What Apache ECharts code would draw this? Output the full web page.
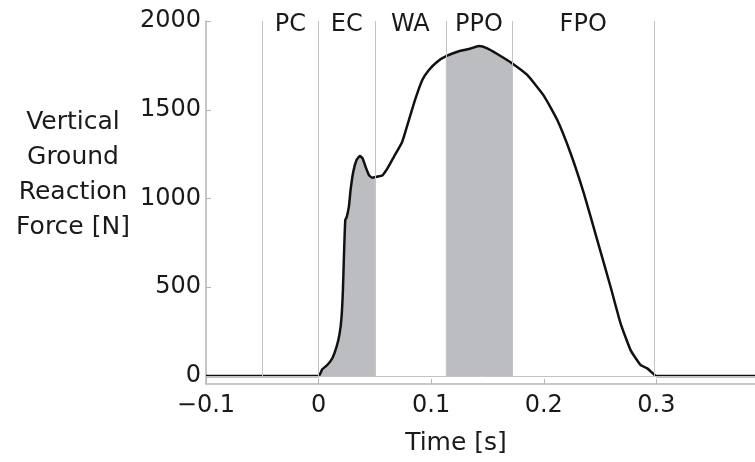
<!DOCTYPE html>
<html>
<head>
<meta charset="utf-8">
<script src="https://cdn.jsdelivr.net/npm/echarts@6/dist/echarts.min.js"></script>
<style>html,body{margin:0;padding:0;background:#fff}#c{width:755px;height:462px}</style>
</head>
<body>
<div id="c"></div>
<script>
const time  = [-0.1, 0, 0.0033, 0.0077, 0.0122, 0.016, 0.0187, 0.0204, 0.0216, 0.0225, 0.0237, 0.0249, 0.0269, 0.0284, 0.0308, 0.0337, 0.0367, 0.0391, 0.0417, 0.0447, 0.0477, 0.0515, 0.0566, 0.061, 0.0669, 0.0743, 0.0802, 0.0861, 0.0921, 0.098, 0.1054, 0.1137, 0.1232, 0.1335, 0.1424, 0.1498, 0.1587, 0.172, 0.1853, 0.2001, 0.212, 0.2238, 0.2356, 0.2475, 0.2593, 0.2682, 0.2771, 0.286, 0.2919, 0.2984, 0.3, 0.3876];
const force = [0, 0, 38, 62, 100, 165, 240, 334, 484, 672, 879, 894, 954, 1048, 1151, 1217, 1239, 1226, 1179, 1132, 1117, 1123, 1130, 1168, 1235, 1320, 1442, 1564, 1668, 1724, 1771, 1803, 1827, 1842, 1859, 1846, 1814, 1761, 1696, 1578, 1442, 1255, 1029, 766, 503, 297, 146, 62, 43, 6, 0, 0];
const phaseBounds = [-0.05, 0, 0.05, 0.113, 0.172, 0.298];
const phaseNames = ['PC', 'EC', 'WA', 'PPO', 'FPO'];
const shadedPhases = ['EC', 'PPO'];
const xTicks = [-0.1, 0, 0.1, 0.2, 0.3];
const yTicks = [0, 500, 1000, 1500, 2000];
const xRange = [-0.1, 0.3876];
const yRange = [-45, 2000];

const main = time.map((t, i) => [t, force[i]]);
function interp(t) {
  for (let i = 1; i < time.length; i++) {
    if (time[i] >= t) {
      const f = (t - time[i - 1]) / (time[i] - time[i - 1]);
      return force[i - 1] + f * (force[i] - force[i - 1]);
    }
  }
  return 0;
}
function shadeData(a, b) {
  const d = [[a, interp(a)]];
  time.forEach((t, i) => { if (t > a && t < b) d.push([t, force[i]]); });
  d.push([b, interp(b)]);
  return d;
}
const gray = '#bcbdc1';
const txt = '#1a1a1a';
const series = [];
series.push({
  type: 'line', data: [], silent: true, z: 1,
  markLine: {
    silent: true, symbol: 'none', animation: false,
    lineStyle: { color: '#c4c4c4', width: 1, type: 'solid' },
    label: { show: false },
    data: phaseBounds.map(b => [{ coord: [b, 0] }, { coord: [b, yTicks[yTicks.length - 1]] }])
      .concat([[{ coord: [xRange[0], 0] }, { coord: [xRange[1], 0] }]])
  }
});
shadedPhases.forEach(name => {
  const k = phaseNames.indexOf(name);
  series.push({
    type: 'line', data: shadeData(phaseBounds[k], phaseBounds[k + 1]),
    symbol: 'none', smooth: 0.15, z: 2, silent: true,
    lineStyle: { width: 0 }, areaStyle: { color: gray, opacity: 1, origin: 0 }
  });
});
series.push({
  type: 'line', data: main, symbol: 'none', smooth: 0.15, z: 3,
  lineStyle: { color: '#111', width: 2.5 }
});
series.push({
  type: 'scatter', symbolSize: 0, z: 4, silent: true,
  itemStyle: { opacity: 1 },
  data: phaseNames.map((n, k) => ({ name: n, value: [(phaseBounds[k] + phaseBounds[k + 1]) / 2, yTicks[yTicks.length - 1]] })),
  label: { show: true, position: 'inside', offset: [0, 4], formatter: p => p.name, color: txt, opacity: 1, fontSize: 24, fontFamily: 'DejaVu Sans' }
});

const chart = echarts.init(document.getElementById('c'));
chart.setOption({
  animation: false,
  grid: { left: 206, top: 21, right: 0, bottom: 78, containLabel: false },
  xAxis: {
    type: 'value', min: xRange[0], max: xRange[1],
    splitLine: { show: false },
    axisLine: { show: true, onZero: false, lineStyle: { color: '#b5b5b5', width: 1.5 } },
    axisTick: { show: true, inside: true, length: 5, customValues: xTicks, lineStyle: { color: '#b5b5b5', width: 1 } },
    axisLabel: { customValues: xTicks, margin: 10, color: txt, fontSize: 24, fontFamily: 'DejaVu Sans',
      formatter: v => { const r = Math.round(v * 10) / 10; return r === 0 ? '0' : String(r).replace('-', '\u2212'); } }
  },
  yAxis: {
    type: 'value', min: yRange[0], max: yRange[1],
    splitLine: { show: false },
    axisLine: { show: true, onZero: false, lineStyle: { color: '#b5b5b5', width: 1.5 } },
    axisTick: { show: true, inside: true, length: 5, customValues: yTicks, lineStyle: { color: '#b5b5b5', width: 1 } },
    axisLabel: { customValues: yTicks, margin: 5, color: txt, fontSize: 24, fontFamily: 'DejaVu Sans',
      formatter: v => String(Math.round(v)) }
  },
  graphic: [
    { type: 'text', x: 73, y: 175, silent: true,
      style: { text: 'Vertical\nGround\nReaction\nForce [N]', fill: txt, font: '25px "DejaVu Sans"', textAlign: 'center', textVerticalAlign: 'middle', lineHeight: 35 } },
    { type: 'text', x: 456, y: 443, silent: true,
      style: { text: 'Time [s]', fill: txt, font: '25px "DejaVu Sans"', textAlign: 'center', textVerticalAlign: 'middle' } }
  ],
  series: series
});
</script>
</body>
</html>
